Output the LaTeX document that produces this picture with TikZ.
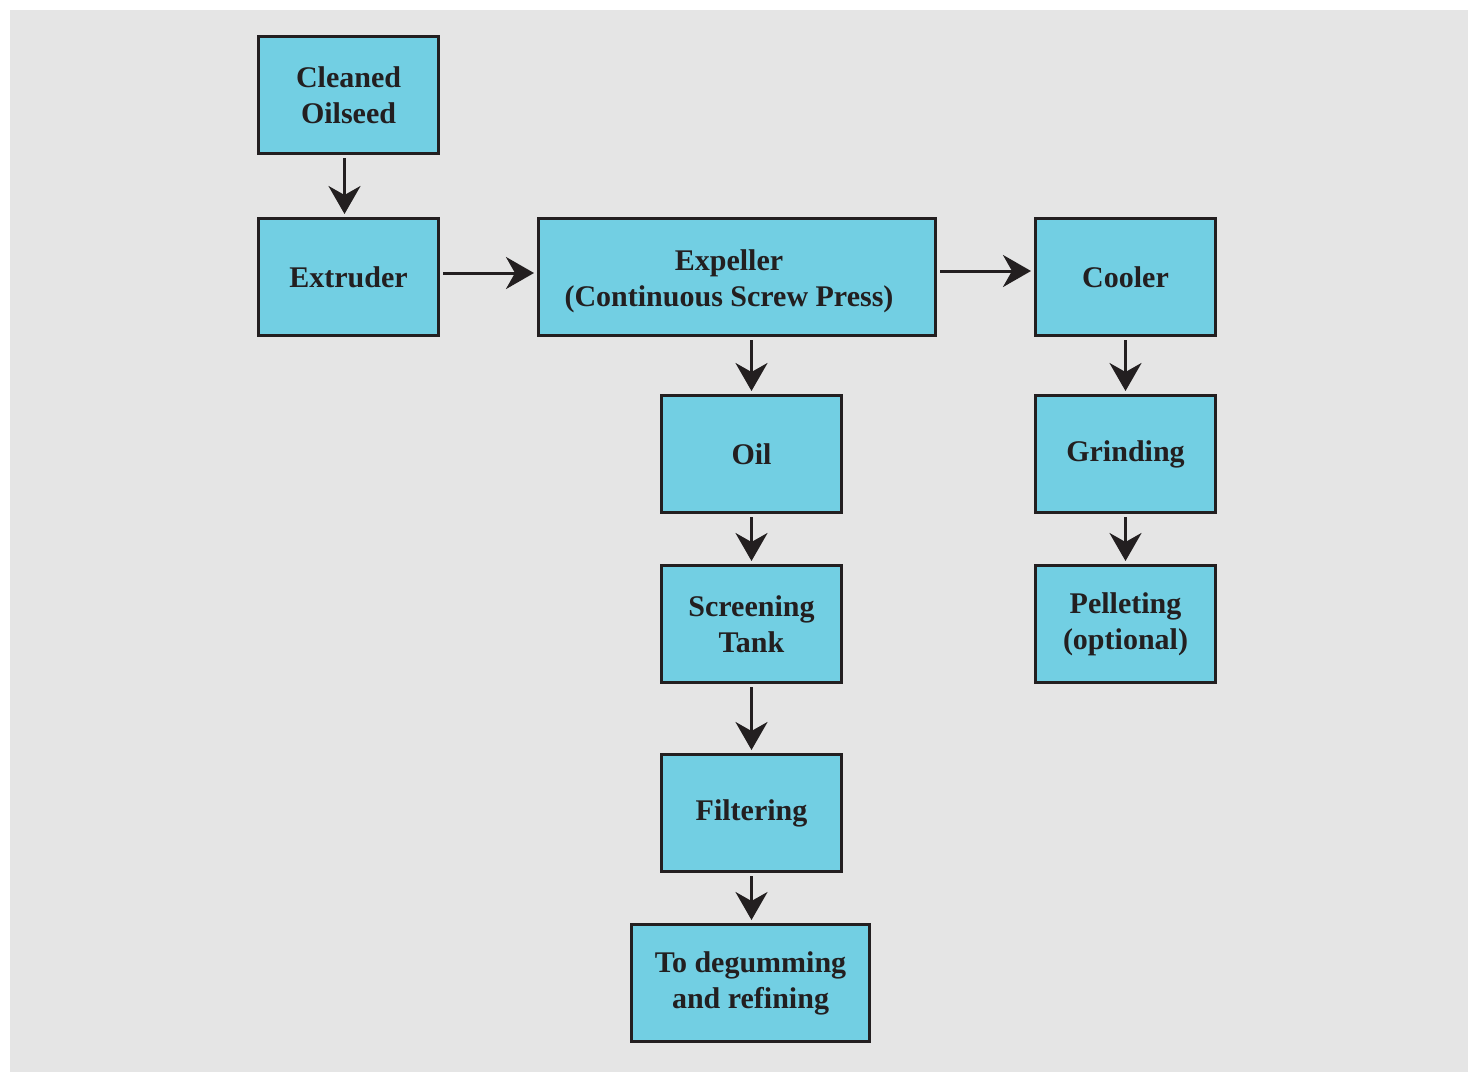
\documentclass[tikz,border=0pt]{standalone}
\usepackage{fontspec}
\setmainfont{Liberation Serif}
\usetikzlibrary{arrows.meta}
\definecolor{boxfill}{HTML}{72CFE3}
\definecolor{ink}{HTML}{231F20}
\definecolor{bg}{HTML}{E5E5E5}
\begin{document}
\begin{tikzpicture}[x=1pt,y=-1pt,
  box/.style={draw=ink, line width=3pt, fill=boxfill, rectangle, minimum width=180pt, minimum height=117pt,
    align=center, text=ink, font=\fontsize{30}{36}\selectfont\bfseries, inner sep=0pt},
  flow/.style={draw=ink, line width=3pt, -{Stealth[length=28pt, width=32pt, inset=9pt]}, shorten <=3pt, shorten >=3pt}]
  \fill[white] (0,0) rectangle (1468,1072);
  \fill[bg] (10,10) rectangle (1468,1072);
  \useasboundingbox (0,0) rectangle (1468,1072);
  \node[box] (clean) at (348.5,95) {Cleaned\\Oilseed};
  \node[box] (extr) at (348.5,277) {Extruder};
  \node[box, minimum width=397pt] (exp) at (737,277) {\rule{0pt}{30pt}Expeller\rule{16pt}{0pt}\\(Continuous Screw Press)\rule{16pt}{0pt}};
  \node[box] (cool) at (1125.5,277) {Cooler};
  \node[box] (oil) at (751.5,454) {Oil};
  \node[box] (grind) at (1125.5,454) {Grinding};
  \node[box] (screen) at (751.5,624) {Screening\\Tank};
  \node[box] (pell) at (1125.5,624) {Pelleting\\(optional)};
  \node[box] (filt) at (751.5,813) {Filtering};
  \node[box, minimum width=238pt] (deg) at (750.5,983) {To degumming\\and refining};
  \draw[flow] ([xshift=-4pt]clean.south) -- ([xshift=-4pt]extr.north);
  \draw[flow] ([yshift=4pt]extr.east) -- ([yshift=4pt]exp.west);
  \draw[flow] ([yshift=6pt]exp.east) -- ([yshift=6pt]cool.west);
  \draw[flow] (oil.north |- exp.south) -- (oil.north);
  \draw[flow] (oil.south) -- (screen.north);
  \draw[flow] (screen.south) -- (filt.north);
  \draw[flow] (filt.south) -- (deg.north -| filt.south);
  \draw[flow] (cool.south) -- (grind.north);
  \draw[flow] (grind.south) -- (pell.north);
\end{tikzpicture}
\end{document}
